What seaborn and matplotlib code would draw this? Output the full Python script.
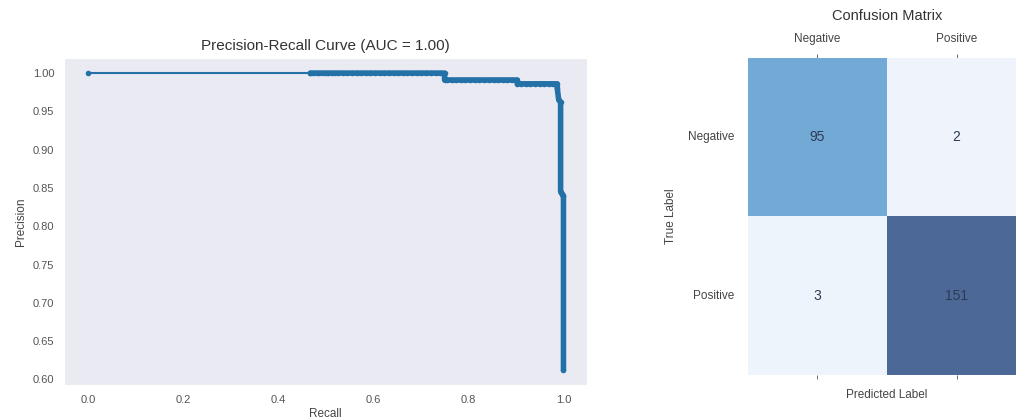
import numpy as np
import pandas as pd
import matplotlib
matplotlib.use("Agg")
import matplotlib.pyplot as plt
from matplotlib.colors import LinearSegmentedColormap
import seaborn as sns

# Precision-recall points
recall = [0.0, 0.468, 0.474, 0.481, 0.487, 0.494, 0.500, 0.506, 0.513, 0.519,
          0.526, 0.536, 0.545, 0.555, 0.565, 0.575, 0.584, 0.594, 0.604, 0.614,
          0.623, 0.633, 0.643, 0.653, 0.662, 0.672, 0.682, 0.692, 0.701, 0.711,
          0.721, 0.731, 0.740, 0.750, 0.750, 0.755, 0.765, 0.775, 0.784, 0.794,
          0.804, 0.814, 0.823, 0.833, 0.843, 0.853, 0.862, 0.872, 0.882, 0.892,
          0.903, 0.903, 0.911, 0.921, 0.930, 0.940, 0.950, 0.960, 0.969, 0.979,
          0.987, 0.987, 0.990, 0.994, 0.994, 0.997, 1.0, 1.0]
precision = [1.0, 1.0, 1.0, 1.0, 1.0, 1.0, 1.0, 1.0, 1.0, 1.0,
             1.0, 1.0, 1.0, 1.0, 1.0, 1.0, 1.0, 1.0, 1.0, 1.0,
             1.0, 1.0, 1.0, 1.0, 1.0, 1.0, 1.0, 1.0, 1.0, 1.0,
             1.0, 1.0, 1.0, 1.0, 0.991, 0.991, 0.991, 0.991, 0.991, 0.991,
             0.991, 0.991, 0.991, 0.991, 0.991, 0.991, 0.991, 0.991, 0.991, 0.991,
             0.991, 0.986, 0.986, 0.986, 0.986, 0.986, 0.986, 0.986, 0.986, 0.986,
             0.986, 0.980, 0.965, 0.962, 0.845, 0.842, 0.840, 0.612]
pr_auc = 1.00

# Confusion matrix
class_names = ["Negative", "Positive"]
cm_values = [[95, 2],
             [3, 151]]

sns.set_style("dark")
plt.rcParams["font.family"] = ["Liberation Sans", "DejaVu Sans"]

fig = plt.figure(figsize=(10.16, 4.19), dpi=100)
ax1 = fig.add_axes([0.063, 0.081, 0.515, 0.780])
ax2 = fig.add_axes([0.736, 0.105, 0.274, 0.757])

pr_df = pd.DataFrame({"Recall": recall, "Precision": precision})
line_color = "#2471a8"
# sparse start of the curve: thin line
sns.lineplot(data=pr_df.iloc[:2], x="Recall", y="Precision", estimator=None, sort=False,
             color=line_color, linewidth=1.5, marker="o", markersize=4,
             markeredgewidth=0, ax=ax1)
# dense thresholds: markers overlap into a thick line
sns.lineplot(data=pr_df.iloc[1:], x="Recall", y="Precision", estimator=None, sort=False,
             color=line_color, linewidth=4, marker="o", markersize=4,
             markeredgewidth=0, ax=ax1)
ax1.set_title(f"Precision-Recall Curve (AUC = {pr_auc:.2f})", fontsize=11, color="#333333")
ax1.set_xlabel("Recall", fontsize=8.5, color="#444444", labelpad=2)
ax1.set_ylabel("Precision", fontsize=8.5, color="#444444")
ax1.tick_params(labelsize=8, colors="#555555")
ax1.set_yticks([0.60, 0.65, 0.70, 0.75, 0.80, 0.85, 0.90, 0.95, 1.00])
ax1.set_yticklabels([f"{v:.2f}" for v in ax1.get_yticks()])
ax1.set_xticks([0.0, 0.2, 0.4, 0.6, 0.8, 1.0])
ax1.set_xticklabels([f"{v:.1f}" for v in ax1.get_xticks()])

cmap = LinearSegmentedColormap.from_list(
    "cm", [(0.0, "#eff4fc"), (0.62, "#72aad6"), (1.0, "#4c6897")])
cm_df = pd.DataFrame(cm_values, index=class_names, columns=class_names)
sns.heatmap(cm_df, annot=True, fmt="d", cmap=cmap, cbar=False, ax=ax2,
            annot_kws={"fontsize": 10, "color": "#2e3b55"})
ax2.set_title("Confusion Matrix", fontsize=10.5, color="#333333", pad=27)
ax2.xaxis.tick_top()
ax2.xaxis.set_label_position("bottom")
ax2.tick_params(axis="x", top=True, bottom=True, length=3, width=0.6,
                color="#555555", labelsize=8.5, labelcolor="#444444", pad=6)
ax2.tick_params(axis="y", left=False, labelsize=8.5, labelcolor="#444444", pad=6)
ax2.set_yticklabels(class_names, rotation=0)
ax2.set_xlabel("Predicted Label", fontsize=8.5, color="#444444", labelpad=7)
ax2.set_ylabel("True Label", fontsize=8.5, color="#444444", labelpad=8)

fig.savefig("out.png", dpi=100)
